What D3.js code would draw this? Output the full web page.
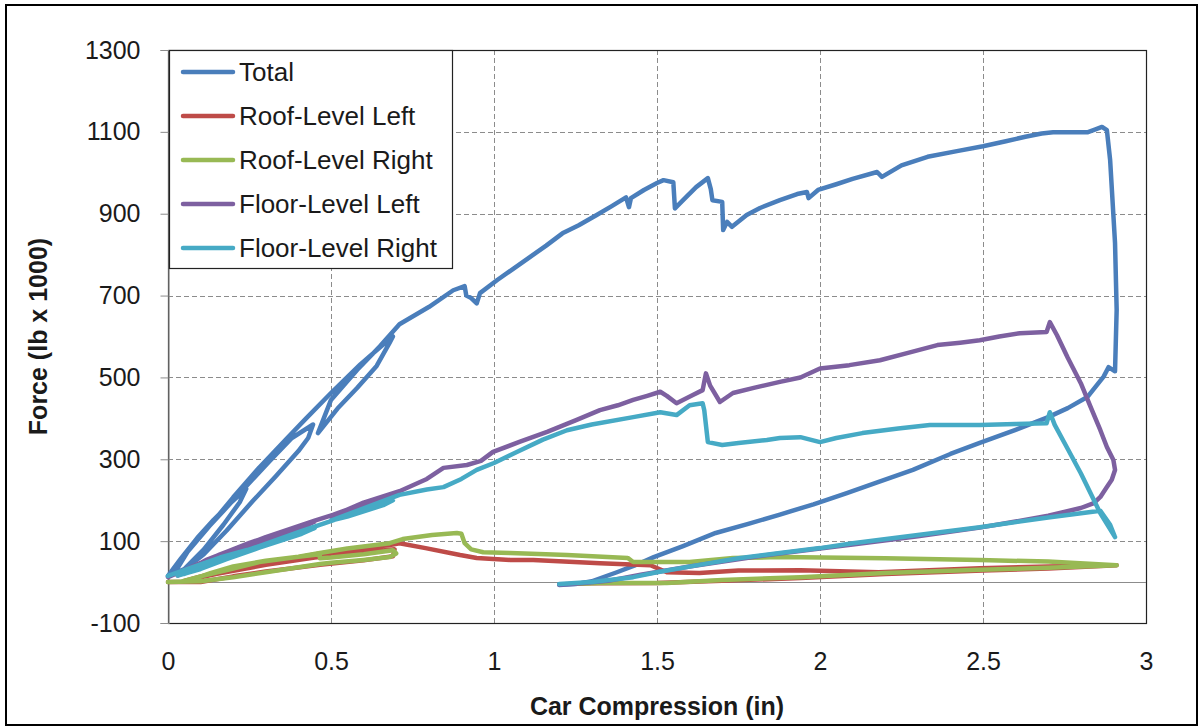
<!DOCTYPE html>
<html>
<head>
<meta charset="utf-8">
<script src="https://cdn.jsdelivr.net/npm/d3@7"></script>
<style>
  body { margin: 0; background: #fff; }
  svg { display: block; font-family: "Liberation Sans", Arial, sans-serif; }
</style>
</head>
<body>
<svg width="1203" height="727"></svg>
<script>
// series names, in drawing / legend order
const seriesNames = ["Total", "Roof-Level Left", "Roof-Level Right", "Floor-Level Left", "Floor-Level Right"];
const seriesColors = ["#4a7ebb", "#be4b48", "#98b954", "#7d60a0", "#46aac5"];

const xTicks = [0, 0.5, 1, 1.5, 2, 2.5, 3];
const yTicks = [-100, 100, 300, 500, 700, 900, 1100, 1300];

// [compression (in), force (lb x 1000)]
const totalPts = [
  [0,15],[0.04,58],[0.09,108],[0.14,152],[0.19,192],[0.24,228],
  [0.22,195],[0.17,140],[0.11,80],[0.05,32],[0.01,18],
  [0.05,64],[0.10,114],[0.17,174],[0.24,234],[0.31,294],[0.38,352],[0.445,385],
  [0.43,352],[0.40,320],[0.33,258],[0.26,198],[0.18,126],[0.11,68],[0.05,30],[0.02,22],
  [0.06,74],[0.12,130],[0.2,207],[0.28,280],[0.36,347],[0.42,397],[0.5,462],[0.59,532],[0.67,587],[0.69,600],
  [0.68,585],[0.64,528],[0.58,474],[0.52,424],[0.46,364],
  [0.5,445],[0.58,518],[0.65,576],[0.71,630],[0.80,672],[0.875,713],[0.91,723],[0.915,700],[0.93,694],
  [0.947,681],[0.957,706],[1.01,738],[1.06,766],[1.11,794],[1.16,822],[1.21,852],[1.26,872],[1.315,897],
  [1.36,918],[1.405,940],[1.414,916],[1.42,938],[1.46,958],[1.5,975],[1.52,982],[1.55,977],[1.555,913],
  [1.58,933],[1.62,965],[1.656,987],[1.665,960],[1.67,933],[1.70,929],[1.703,860],[1.715,880],[1.73,868],
  [1.775,897],[1.816,914],[1.877,933],[1.93,948],[1.96,953],[1.965,938],[1.994,958],[2.05,972],[2.1,985],
  [2.175,1002],[2.19,990],[2.25,1018],[2.33,1039],[2.42,1053],[2.5,1065],[2.57,1077],[2.63,1088],[2.68,1096],
  [2.715,1099],[2.82,1099],[2.845,1106],[2.865,1112],[2.88,1104],[2.89,1031],[2.905,828],[2.91,665],
  [2.905,515],[2.885,525],[2.87,502],[2.82,452],[2.76,425],[2.70,403],[2.6,372],[2.49,340],[2.4,313],
  [2.285,274],[2.18,245],[2.08,217],[1.98,190],[1.877,165],[1.78,142],[1.68,120],[1.58,88],[1.49,61],
  [1.43,40],[1.377,24],[1.3,2],[1.25,-5],[1.2,-7]
];

const roofLeftPts = [
  [0,0],[0.1,0],[0.2,14],[0.3,26],[0.466,42],[0.6,53],[0.69,63],[0.695,80],[0.6,72],[0.45,60],[0.3,42],
  [0.15,20],[0.05,3],[0.15,24],[0.3,46],[0.466,70],[0.6,82],[0.69,92],[0.71,95],[0.79,83],[0.896,66],
  [0.947,59],[1.05,54],[1.12,54],[1.325,46],[1.48,41],[1.53,24],[1.63,22],[1.75,28],[1.94,29],[2.18,24],
  [2.49,34],[2.7,38],[2.91,41],[2.7,33],[2.5,28],[2.2,20],[1.94,10],[1.7,3],[1.5,-2],[1.3,-3],[1.25,-4]
];

const roofRightPts = [
  [0,0],[0.1,2],[0.2,12],[0.3,24],[0.466,44],[0.5,47],[0.6,54],[0.68,61],[0.70,70],[0.69,78],[0.6,68],
  [0.5,60],[0.466,58],[0.465,68],[0.4,62],[0.3,52],[0.2,38],[0.13,22],[0.08,8],[0.04,1],[0.1,14],[0.2,33],
  [0.28,49],[0.4,62],[0.466,71],[0.55,82],[0.68,95],[0.72,105],[0.81,115],[0.886,120],[0.9,118],[0.91,95],
  [0.93,80],[0.967,73],[1.05,71],[1.224,66],[1.41,59],[1.427,49],[1.51,49],[1.6,49],[1.733,59],[1.877,61],
  [2.2,58],[2.49,54],[2.7,50],[2.91,41],[2.7,35],[2.49,30],[2.2,22],[1.94,12],[1.7,5],[1.53,-2],[1.325,-2],[1.25,-4]
];

const floorLeftPts = [
  [0,12],[0.08,40],[0.16,68],[0.24,92],[0.2,76],[0.1,42],[0.03,16],[0.12,55],[0.25,96],[0.35,122],[0.45,148],
  [0.41,132],[0.28,94],[0.14,52],[0.05,22],[0.15,62],[0.3,110],[0.45,150],[0.506,164],[0.6,192],[0.69,217],
  [0.66,200],[0.55,172],[0.5,160],[0.6,194],[0.71,222],[0.794,252],[0.845,279],[0.917,286],[0.96,296],
  [0.997,318],[1.08,343],[1.163,367],[1.25,395],[1.325,420],[1.38,432],[1.427,445],[1.47,455],[1.51,465],
  [1.53,455],[1.56,437],[1.61,457],[1.64,469],[1.65,510],[1.663,480],[1.693,440],[1.733,462],[1.8,475],
  [1.877,489],[1.94,500],[2.0,522],[2.09,530],[2.184,542],[2.27,560],[2.36,579],[2.43,585],[2.49,591],
  [2.55,600],[2.613,608],[2.695,611],[2.705,635],[2.727,603],[2.76,548],[2.80,486],[2.83,428],[2.86,371],
  [2.88,330],[2.90,298],[2.905,274],[2.895,250],[2.88,232],[2.86,208],[2.84,193],[2.80,181],[2.7,162],
  [2.6,148],[2.49,133],[2.3,112],[2.1,92],[2.0,82],[1.8,62],[1.6,38],[1.45,18],[1.35,3],[1.25,-4],[1.2,-6]
];

const floorRightPts = [
  [0,15],[0.08,38],[0.16,60],[0.24,78],[0.2,62],[0.1,32],[0.03,16],[0.12,45],[0.25,80],[0.35,104],[0.45,132],
  [0.41,118],[0.28,84],[0.14,45],[0.05,20],[0.15,52],[0.28,88],[0.4,122],[0.506,151],[0.6,178],[0.69,200],
  [0.66,188],[0.55,160],[0.5,150],[0.6,180],[0.71,213],[0.794,226],[0.845,232],[0.9,252],[0.947,274],
  [1.0,291],[1.07,318],[1.15,348],[1.224,371],[1.3,385],[1.427,403],[1.51,415],[1.56,408],[1.6,432],
  [1.64,437],[1.645,420],[1.656,342],[1.70,335],[1.75,340],[1.837,347],[1.877,352],[1.94,354],[2.0,342],
  [2.05,352],[2.13,364],[2.24,375],[2.337,384],[2.49,384],[2.6,386],[2.695,388],[2.705,415],[2.72,384],
  [2.76,325],[2.80,266],[2.83,217],[2.86,168],[2.905,110],[2.89,140],[2.86,174],[2.7,158],[2.49,134],
  [2.3,115],[2.1,95],[2.0,83],[1.877,71],[1.75,58],[1.63,42],[1.5,24],[1.427,12],[1.3,0],[1.2,-5]
];

const seriesData = [totalPts, roofLeftPts, roofRightPts, floorLeftPts, floorRightPts];

var svg = d3.select("svg"),
  width = +svg.attr("width"),
  height = +svg.attr("height");

var plot = {left: 168, right: 1146, top: 50, bottom: 623};

var x = d3.scaleLinear().domain([0, 3]).range([plot.left, plot.right]);
var y = d3.scaleLinear().domain([-100, 1300]).range([plot.bottom, plot.top]);

// outer frame
svg.append("rect")
  .attr("x", 6).attr("y", 5)
  .attr("width", 1191).attr("height", 720)
  .attr("fill", "#fff")
  .attr("stroke", "#000")
  .attr("stroke-width", 2);

// grid
var grid = svg.append("g").attr("class", "grid")
  .attr("stroke", "#8c8c8c")
  .attr("stroke-width", 1)
  .attr("stroke-dasharray", "5,3");

grid.selectAll(".hg")
  .data(yTicks.filter(d => d > -100 && d < 1300))
  .enter().append("line")
  .attr("x1", plot.left).attr("x2", plot.right)
  .attr("y1", d => Math.round(y(d)) + 0.5)
  .attr("y2", d => Math.round(y(d)) + 0.5);

grid.selectAll(".vg")
  .data(xTicks.filter(d => d > 0 && d < 3))
  .enter().append("line")
  .attr("y1", plot.top).attr("y2", plot.bottom)
  .attr("x1", d => Math.round(x(d)) + 0.5)
  .attr("x2", d => Math.round(x(d)) + 0.5);

// plot frame
svg.append("rect")
  .attr("x", plot.left + 0.5).attr("y", plot.top + 0.5)
  .attr("width", plot.right - plot.left).attr("height", plot.bottom - plot.top)
  .attr("fill", "none")
  .attr("stroke", "#222")
  .attr("stroke-width", 1.2);

// zero line
svg.append("line")
  .attr("x1", plot.left).attr("x2", plot.right)
  .attr("y1", Math.round(y(0)) + 0.5).attr("y2", Math.round(y(0)) + 0.5)
  .attr("stroke", "#8c8c8c").attr("stroke-width", 1.2);

// y axis
var yAxis = d3.axisLeft(y).tickValues(yTicks).tickSize(8).tickPadding(20).tickFormat(d => String(d));
var yg = svg.append("g")
  .attr("transform", "translate(" + (plot.left + 0.5) + ",0)")
  .call(yAxis);
yg.select(".domain").attr("stroke", "#8c8c8c").attr("stroke-width", 1.2);
yg.selectAll(".tick line").attr("stroke", "#8c8c8c");
yg.selectAll(".tick text")
  .attr("font-size", 25)
  .attr("fill", "#1a1a1a")
  .attr("font-family", "Liberation Sans, Arial, sans-serif");

// x axis labels (no tick marks)
var xAxis = d3.axisBottom(x).tickValues(xTicks).tickSize(0).tickPadding(29).tickFormat(d => String(d));
var xg = svg.append("g")
  .attr("transform", "translate(0," + plot.bottom + ")")
  .call(xAxis);
xg.select(".domain").remove();
xg.selectAll(".tick text")
  .attr("font-size", 25)
  .attr("fill", "#1a1a1a")
  .attr("font-family", "Liberation Sans, Arial, sans-serif");

// axis titles
svg.append("text")
  .attr("x", (plot.left + plot.right) / 2)
  .attr("y", 715)
  .attr("text-anchor", "middle")
  .attr("font-size", 25)
  .attr("font-weight", "bold")
  .attr("fill", "#1a1a1a")
  .text("Car Compression (in)");

svg.append("text")
  .attr("transform", "translate(47," + ((plot.top + plot.bottom) / 2) + ") rotate(-90)")
  .attr("text-anchor", "middle")
  .attr("font-size", 25)
  .attr("font-weight", "bold")
  .attr("fill", "#1a1a1a")
  .text("Force (lb x 1000)");

// series lines
var line = d3.line()
  .x(d => x(d[0]))
  .y(d => y(d[1]));

var lines = svg.append("g").attr("class", "lines");
lines.selectAll("path")
  .data(seriesData)
  .enter().append("path")
  .attr("d", line)
  .attr("fill", "none")
  .attr("stroke", (d, i) => seriesColors[i])
  .attr("stroke-width", 4.5)
  .attr("stroke-linejoin", "round")
  .attr("stroke-linecap", "round");

// legend
var legend = svg.append("g").attr("class", "legend");
legend.append("rect")
  .attr("x", 169.5).attr("y", 50.5)
  .attr("width", 283).attr("height", 218)
  .attr("fill", "#fff")
  .attr("stroke", "#222")
  .attr("stroke-width", 1.2);

var item = legend.selectAll(".item")
  .data(seriesNames)
  .enter().append("g")
  .attr("class", "item")
  .attr("transform", (d, i) => "translate(0," + (72 + i * 44) + ")");

item.append("line")
  .attr("x1", 183).attr("x2", 233)
  .attr("y1", 0).attr("y2", 0)
  .attr("stroke", (d, i) => seriesColors[i])
  .attr("stroke-width", 4.5)
  .attr("stroke-linecap", "round");

item.append("text")
  .attr("x", 239)
  .attr("y", 0)
  .attr("dy", "0.36em")
  .attr("font-size", 26)
  .attr("fill", "#1a1a1a")
  .text(d => d);
</script>
</body>
</html>
